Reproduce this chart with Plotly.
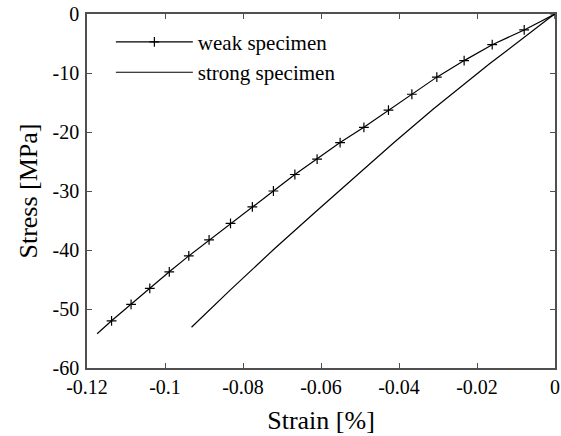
import plotly.graph_objects as go

# Weak specimen (marked points along the curve), strain in %, stress in MPa
weak_strain = [0, -0.0079, -0.0161, -0.0233, -0.0303, -0.0367, -0.0427, -0.0490,
               -0.0551, -0.0610, -0.0667, -0.0722, -0.0776, -0.0832, -0.0887,
               -0.0939, -0.0989, -0.1039, -0.1087, -0.1137]
weak_stress = [0, -2.7, -5.2, -7.9, -10.7, -13.6, -16.3, -19.2, -21.8, -24.6,
               -27.2, -30.0, -32.7, -35.5, -38.3, -41.0, -43.7, -46.5, -49.2, -52.0]
# unmarked tail of the weak curve
weak_tail_strain = [-0.1137, -0.1174]
weak_tail_stress = [-52.0, -54.2]

# Strong specimen
strong_strain = [0, -0.0013, -0.0167, -0.0312, -0.0415, -0.0517, -0.0615, -0.0718, -0.0833, -0.0932]
strong_stress = [0, -0.6, -8.4, -16.1, -21.9, -27.8, -33.6, -39.7, -46.8, -53.1]

x_ticks = [-0.12, -0.1, -0.08, -0.06, -0.04, -0.02, 0]
x_tick_labels = ["-0.12", "-0.1", "-0.08", "-0.06", "-0.04", "-0.02", "0"]
y_ticks = [-60, -50, -40, -30, -20, -10, 0]
y_tick_labels = ["-60", "-50", "-40", "-30", "-20", "-10", "0"]

FONT = "Times New Roman, Liberation Serif, serif"

fig = go.Figure()
fig.add_trace(go.Scatter(
    x=weak_strain, y=weak_stress, mode="lines+markers", name="weak specimen",
    line=dict(color="black", width=1.2),
    marker=dict(symbol="cross-thin", size=7, line=dict(color="black", width=1.2)),
))
fig.add_trace(go.Scatter(
    x=weak_tail_strain, y=weak_tail_stress, mode="lines", showlegend=False,
    line=dict(color="black", width=1.2),
))
fig.add_trace(go.Scatter(
    x=strong_strain, y=strong_stress, mode="lines", name="strong specimen",
    line=dict(color="black", width=1.2),
))

tick_font = dict(family=FONT, size=20, color="black")
title_font = dict(family=FONT, size=26, color="black")

fig.update_layout(
    width=561, height=436,
    margin=dict(l=87, r=6, t=14, b=68, autoexpand=False),
    paper_bgcolor="white", plot_bgcolor="white",
    font=dict(family=FONT, color="black", size=20),
    showlegend=True,
    hovermode=False,
    legend=dict(
        x=0.051, y=0.978, xanchor="left", yanchor="top",
        bgcolor="rgba(0,0,0,0)", borderwidth=0,
        font=dict(family=FONT, size=21, color="black"),
        itemwidth=77, tracegroupgap=0,
    ),
    xaxis=dict(
        showgrid=False, zeroline=False, showline=True, mirror="ticks",
        linecolor="#505050", linewidth=1.5, ticks="inside", ticklen=5,
        tickcolor="#505050", tickwidth=1, tickfont=tick_font, automargin=False,
        ticklabeloverflow="allow",
        range=[-0.12, 0], tickvals=x_ticks, ticktext=x_tick_labels,
        title=dict(text="Strain [%]", font=title_font, standoff=14),
    ),
    yaxis=dict(
        showgrid=False, zeroline=False, showline=True, mirror="ticks",
        linecolor="#505050", linewidth=1.5, ticks="inside", ticklen=5,
        tickcolor="#505050", tickwidth=1, tickfont=tick_font, automargin=False,
        ticklabelstandoff=2, ticklabeloverflow="allow",
        range=[-60, 0], tickvals=y_ticks, ticktext=y_tick_labels,
        title=dict(text="Stress [MPa]", font=title_font, standoff=7),
    ),
)

# remove the browser's default 8px body margin so the figure fills the window
fig.write_html("out.html", config={"displayModeBar": False},
               post_script="document.body.style.margin='0';")
